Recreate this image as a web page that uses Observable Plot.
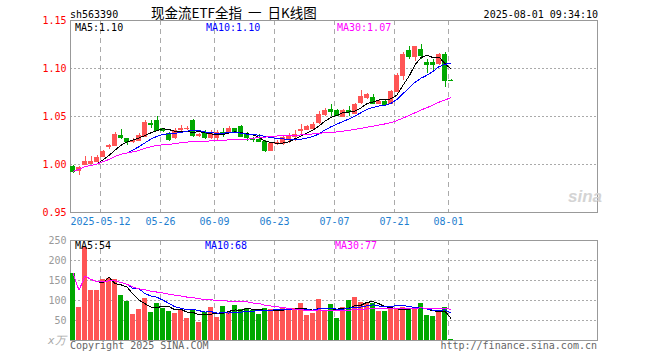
<!DOCTYPE html>
<html><head><meta charset="utf-8">
<script src="https://cdn.jsdelivr.net/npm/d3@7"></script>
<script src="https://cdn.jsdelivr.net/npm/@observablehq/plot@0.6"></script>
<style>
body{margin:0;background:#fff;}
#c{position:relative;width:660px;height:360px;overflow:hidden;font-family:"DejaVu Sans Mono",monospace;background:#fff;}
#c svg{position:absolute;left:0;shape-rendering:crispEdges;}
.t{position:absolute;white-space:pre;font-size:10px;line-height:10px;font-family:"DejaVu Sans Mono",monospace;}
</style></head><body><div id="c"></div>
<script>
// ---- data ----
const dates = ["2025-04-30","2025-05-06","2025-05-07","2025-05-08","2025-05-09",
"2025-05-12","2025-05-13","2025-05-14","2025-05-15","2025-05-16",
"2025-05-19","2025-05-20","2025-05-21","2025-05-22","2025-05-23",
"2025-05-26","2025-05-27","2025-05-28","2025-05-29","2025-05-30",
"2025-06-03","2025-06-04","2025-06-05","2025-06-06",
"2025-06-09","2025-06-10","2025-06-11","2025-06-12","2025-06-13",
"2025-06-16","2025-06-17","2025-06-18","2025-06-19","2025-06-20",
"2025-06-23","2025-06-24","2025-06-25","2025-06-26","2025-06-27",
"2025-06-30","2025-07-01","2025-07-02","2025-07-03","2025-07-04",
"2025-07-07","2025-07-08","2025-07-09","2025-07-10","2025-07-11",
"2025-07-14","2025-07-15","2025-07-16","2025-07-17","2025-07-18",
"2025-07-21","2025-07-22","2025-07-23","2025-07-24","2025-07-25",
"2025-07-28","2025-07-29","2025-07-30","2025-07-31","2025-08-01"];
const open = [0.998,0.994,1.000,1.001,1.003,1.008,1.019,1.020,1.030,1.027,
1.024,1.025,1.029,1.043,1.046,1.037,1.032,1.028,1.036,1.037,
1.046,1.030,1.033,1.028,1.028,1.033,1.034,1.037,1.040,1.032,
1.027,1.026,1.024,1.015,1.022,1.022,1.026,1.0295,1.035,1.036,
1.037,1.044,1.052,1.057,1.056,1.050,1.056,1.053,1.065,1.070,
1.070,1.064,1.066,1.064,1.076,1.093,1.119,1.112,1.120,1.106,
1.106,1.105,1.115,1.088];
const high = [0.999,0.998,1.008,1.008,1.009,1.015,1.021,1.033,1.036,1.027,
1.027,1.032,1.046,1.046,1.050,1.038,1.033,1.038,1.041,1.040,
1.047,1.032,1.035,1.035,1.035,1.037,1.040,1.038,1.041,1.033,
1.028,1.031,1.025,1.023,1.025,1.030,1.032,1.035,1.042,1.041,
1.044,1.055,1.058,1.062,1.057,1.057,1.060,1.064,1.077,1.074,
1.073,1.067,1.068,1.077,1.095,1.117,1.123,1.123,1.125,1.109,
1.109,1.116,1.117,1.089];
const low = [0.991,0.989,1.000,1.000,1.003,1.007,1.016,1.019,1.026,1.020,
1.022,1.024,1.028,1.037,1.034,1.033,1.024,1.026,1.034,1.035,
1.028,1.028,1.026,1.026,1.025,1.028,1.033,1.033,1.028,1.024,
1.023,1.023,1.012,1.014,1.020,1.020,1.022,1.024,1.030,1.035,
1.035,1.042,1.050,1.050,1.050,1.049,1.050,1.052,1.063,1.068,
1.063,1.062,1.060,1.063,1.075,1.088,1.109,1.107,1.109,1.095,
1.096,1.103,1.080,1.086];
const close = [0.993,0.997,1.003,1.003,1.007,1.014,1.020,1.031,1.028,1.024,
1.025,1.030,1.044,1.042,1.035,1.035,1.026,1.035,1.038,1.038,
1.030,1.031,1.028,1.033,1.033,1.032,1.038,1.034,1.029,1.028,
1.026,1.024,1.015,1.022,1.023,1.028,1.030,1.031,1.036,1.040,
1.042,1.052,1.056,1.055,1.051,1.056,1.055,1.062,1.071,1.073,
1.064,1.066,1.063,1.076,1.093,1.115,1.112,1.123,1.114,1.104,
1.104,1.115,1.088,1.087];
const volume = [168,83,233,126,126,152,154,152,112,98,
65,78,106,71,92,81,73,67,77,56,
78,45,70,82,57,85,70,88,78,80,
75,65,80,78,75,82,78,80,92,62,
67,102,75,90,56,82,100,108,95,92,
92,72,72,82,78,82,78,80,92,62,
60,70,82,2];
const tickDates = ["2025-05-12","2025-05-26","2025-06-09","2025-06-23","2025-07-07","2025-07-21","2025-08-01"];
const tickLabels = ["2025-05-12","05-26","06-09","06-23","07-07","07-21","08-01"];
const priceTicks = [0.95,1.00,1.05,1.10,1.15];
const priceGrid = [1.00,1.05,1.10];
const volTicks = [50,100,150,200,250];
const volGrid = [50,100,150,200];
const maWindows = [5,10,30];
const priceMaText = ["MA5:1.10","MA10:1.10","MA30:1.07"];
const volMaText = ["MA5:54","MA10:68","MA30:77"];
const code = "sh563390";
const title = "现金流ETF全指 一 日K线图";
const stamp = "2025-08-01 09:34:10";

// ---- style ----
const RED = "#ff5555", GREEN = "#00a800";
const MA_COLORS = ["#000000","#0000ff","#ff00ff"];
const SLOTS = 88;
const half = 5/12;

const rows = dates.map((d,i)=>({i, date:d, open:open[i], high:high[i], low:low[i], close:close[i], vol:volume[i],
  col: close[i] >= open[i] ? RED : GREEN}));
const ticks = tickDates.map((d,k)=>({i: dates.indexOf(d), label: tickLabels[k]}));
const xScale = {type:"linear", domain:[-half, SLOTS-1+half]};
const font = {fontFamily:"DejaVu Sans Mono, monospace", fontSize:"10px", background:"transparent"};

function maLines(field, strictShort){
  return maWindows.map((k,j)=>Plot.lineY(rows, Plot.windowY(
    {k, anchor:"end", reduce:"mean", strict: k===30 ? false : strictShort},
    {x:"i", y:field, stroke: MA_COLORS[j], strokeWidth:1})));
}

const price = Plot.plot({
  width:660, height:232, marginLeft:70, marginRight:63, marginTop:20, marginBottom:20,
  x: {...xScale, axis:null},
  y: {domain:[0.95,1.15], axis:null},
  color: {type:"identity"},
  style: font,
  marks: [
    Plot.ruleY(priceGrid, {stroke:"#aaaaaa", strokeDasharray:"2,2"}),
    Plot.ruleX(ticks, {x: d=>d.i-half, stroke:"#aaaaaa", strokeDasharray:"5,4"}),
    Plot.frame({stroke:"#999999"}),
    Plot.ruleX(rows, {x:"i", y1:"low", y2:"high", stroke:"col"}),
    Plot.rect(rows, {x1:d=>d.i-half, x2:d=>d.i+half, y1:d=>Math.min(d.open,d.close), y2:d=>Math.max(d.open,d.close), fill:"col"}),
    Plot.ruleY(rows, {y:"open", x1:d=>d.i-half, x2:d=>d.i+half, stroke:"col"}),
    Plot.ruleY(rows, {y:"close", x1:d=>d.i-half, x2:d=>d.i+half, stroke:"col"}),
    ...maLines("close", true),
    Plot.axisY(priceTicks, {anchor:"left", tickSize:0, tickPadding:4, tickFormat:d3.format(".2f"), color:"#ff0000", label:null}),
    Plot.text(ticks, {x:d=>d.i-half, text:"label", frameAnchor:"bottom", lineAnchor:"middle", dy:9, fill:"#1f80d0"})
  ]
});
price.style.top = "0px";

const vol = Plot.plot({
  width:660, height:128, marginLeft:70, marginRight:63, marginTop:8, marginBottom:20,
  x: {...xScale, axis:null},
  y: {domain:[0,250], axis:null},
  color: {type:"identity"},
  style: font,
  marks: [
    Plot.ruleY(volGrid, {stroke:"#aaaaaa", strokeDasharray:"2,2"}),
    Plot.ruleX(ticks, {x: d=>d.i-half, stroke:"#aaaaaa", strokeDasharray:"5,4"}),
    Plot.frame({stroke:"#999999"}),
    Plot.rect(rows, {x1:d=>d.i-half, x2:d=>d.i+half, y1:0, y2:"vol", fill:"col"}),
    ...maLines("vol", true),
    Plot.axisY(volTicks, {anchor:"left", tickSize:0, tickPadding:4, color:"#999999", label:null})
  ]
});
vol.style.top = "232px";

const c = document.getElementById("c");
c.appendChild(price);
c.appendChild(vol);

function txt(s, css){
  const d = document.createElement("div");
  d.className = "t"; d.textContent = s;
  Object.assign(d.style, css);
  c.appendChild(d);
}
txt(code, {left:"70px", top:"10px", color:"#000"});
txt(title, {left:"151px", top:"5px", fontFamily:"'Noto Sans CJK SC',sans-serif", fontSize:"13.5px", lineHeight:"15px", wordSpacing:"3px", color:"#000"});
txt(stamp, {right:"62px", top:"10px", color:"#000"});
const pmX = [75,206,337], vmX = [75,205,335];
priceMaText.forEach((s,j)=>txt(s, {left:pmX[j]+"px", top:"23px", color:MA_COLORS[j]}));
volMaText.forEach((s,j)=>txt(s, {left:vmX[j]+"px", top:"241px", color:MA_COLORS[j]}));
txt("x万", {left:"48px", top:"336px", color:"#aaaaaa", fontStyle:"italic", fontSize:"11px"});
txt("Copyright 2025 SINA.COM", {left:"70px", top:"341px", color:"#666"});
txt("http://finance.sina.com.cn", {right:"63px", top:"341px", color:"#666"});
txt("sina", {left:"568px", top:"188px", color:"#d4d4d4", fontFamily:"'Liberation Sans',sans-serif", fontStyle:"italic", fontWeight:"bold", fontSize:"17px", lineHeight:"17px"});
</script></body></html>
